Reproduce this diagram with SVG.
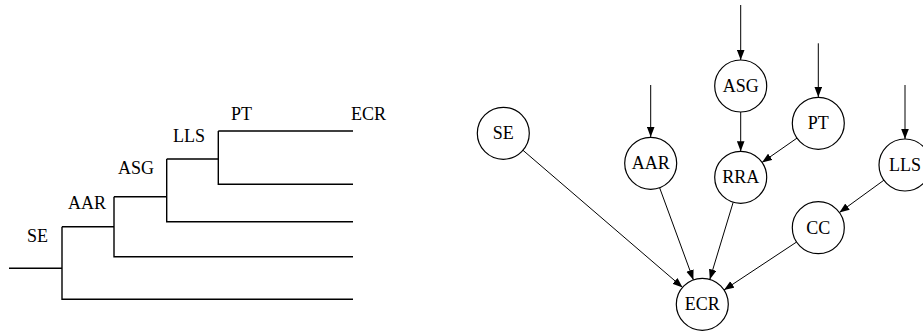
<svg xmlns="http://www.w3.org/2000/svg" width="923" height="333" viewBox="0 0 923 333" font-family="'Liberation Serif', serif">
<style>
text{font-family:'Liberation Serif',serif;font-size:18px;fill:#000}
.t{stroke:#000;stroke-width:1.4;fill:none}
.n circle{fill:#fff;stroke:#000;stroke-width:1.2}
.n text{text-anchor:middle}
.e line{stroke:#000;stroke-width:1}
</style>
<defs>
<marker id="a" markerUnits="userSpaceOnUse" markerWidth="11" markerHeight="8" refX="10" refY="3.8" orient="auto"><path d="M0,0L10,3.8L0,7.6z" fill="#000"/></marker>
</defs>
<g id="tree">
<path class="t" d="M9,268.3H62M62,226.7V299.3H353M62,226.7H114M114,196.7V256.7H353M114,196.7H166.7M166.7,159V221.7H353M166.7,159H218.3M218.3,131V184.3H353M218.3,131H353"/>
<text x="27" y="242">SE</text>
<text x="68" y="208.5">AAR</text>
<text x="118" y="173.5">ASG</text>
<text x="173" y="141.7">LLS</text>
<text x="231" y="120">PT</text>
<text x="351" y="120">ECR</text>
</g>
<g class="e" id="edges">
<line x1="740.7" y1="5" x2="740.7" y2="60" marker-end="url(#a)"/>
<line x1="818.3" y1="43.3" x2="818.3" y2="97" marker-end="url(#a)"/>
<line x1="650.7" y1="85" x2="650.7" y2="137" marker-end="url(#a)"/>
<line x1="905" y1="85" x2="905" y2="139" marker-end="url(#a)"/>
<line x1="740.7" y1="112" x2="740.7" y2="151.3" marker-end="url(#a)"/>
<line x1="797" y1="138.1" x2="762" y2="162.5" marker-end="url(#a)"/>
<line x1="523" y1="150.3" x2="682.6" y2="287.4" marker-end="url(#a)"/>
<line x1="659.6" y1="187.7" x2="693.4" y2="279.9" marker-end="url(#a)"/>
<line x1="733.2" y1="202.2" x2="709.8" y2="279.4" marker-end="url(#a)"/>
<line x1="796.6" y1="242" x2="724" y2="290" marker-end="url(#a)"/>
<line x1="883.9" y1="180.2" x2="839.4" y2="212.5" marker-end="url(#a)"/>
</g>
<g class="n" id="n-ASG"><circle cx="740.7" cy="86" r="26"/><text x="740.7" y="92">ASG</text></g>
<g class="n" id="n-PT"><circle cx="818.3" cy="123.3" r="26"/><text x="818.3" y="129.3">PT</text></g>
<g class="n" id="n-SE"><circle cx="503.3" cy="133.3" r="26"/><text x="503.3" y="139.3">SE</text></g>
<g class="n" id="n-AAR"><circle cx="650.7" cy="163.3" r="26"/><text x="650.7" y="169.3">AAR</text></g>
<g class="n" id="n-RRA"><circle cx="740.7" cy="177.3" r="26"/><text x="740.7" y="183.3">RRA</text></g>
<g class="n" id="n-LLS"><circle cx="905" cy="165" r="26"/><text x="905" y="171">LLS</text></g>
<g class="n" id="n-CC"><circle cx="818.3" cy="227.7" r="26"/><text x="818.3" y="233.7">CC</text></g>
<g class="n" id="n-ECR"><circle cx="702.3" cy="304.3" r="26"/><text x="702.3" y="310.3">ECR</text></g>
</svg>
